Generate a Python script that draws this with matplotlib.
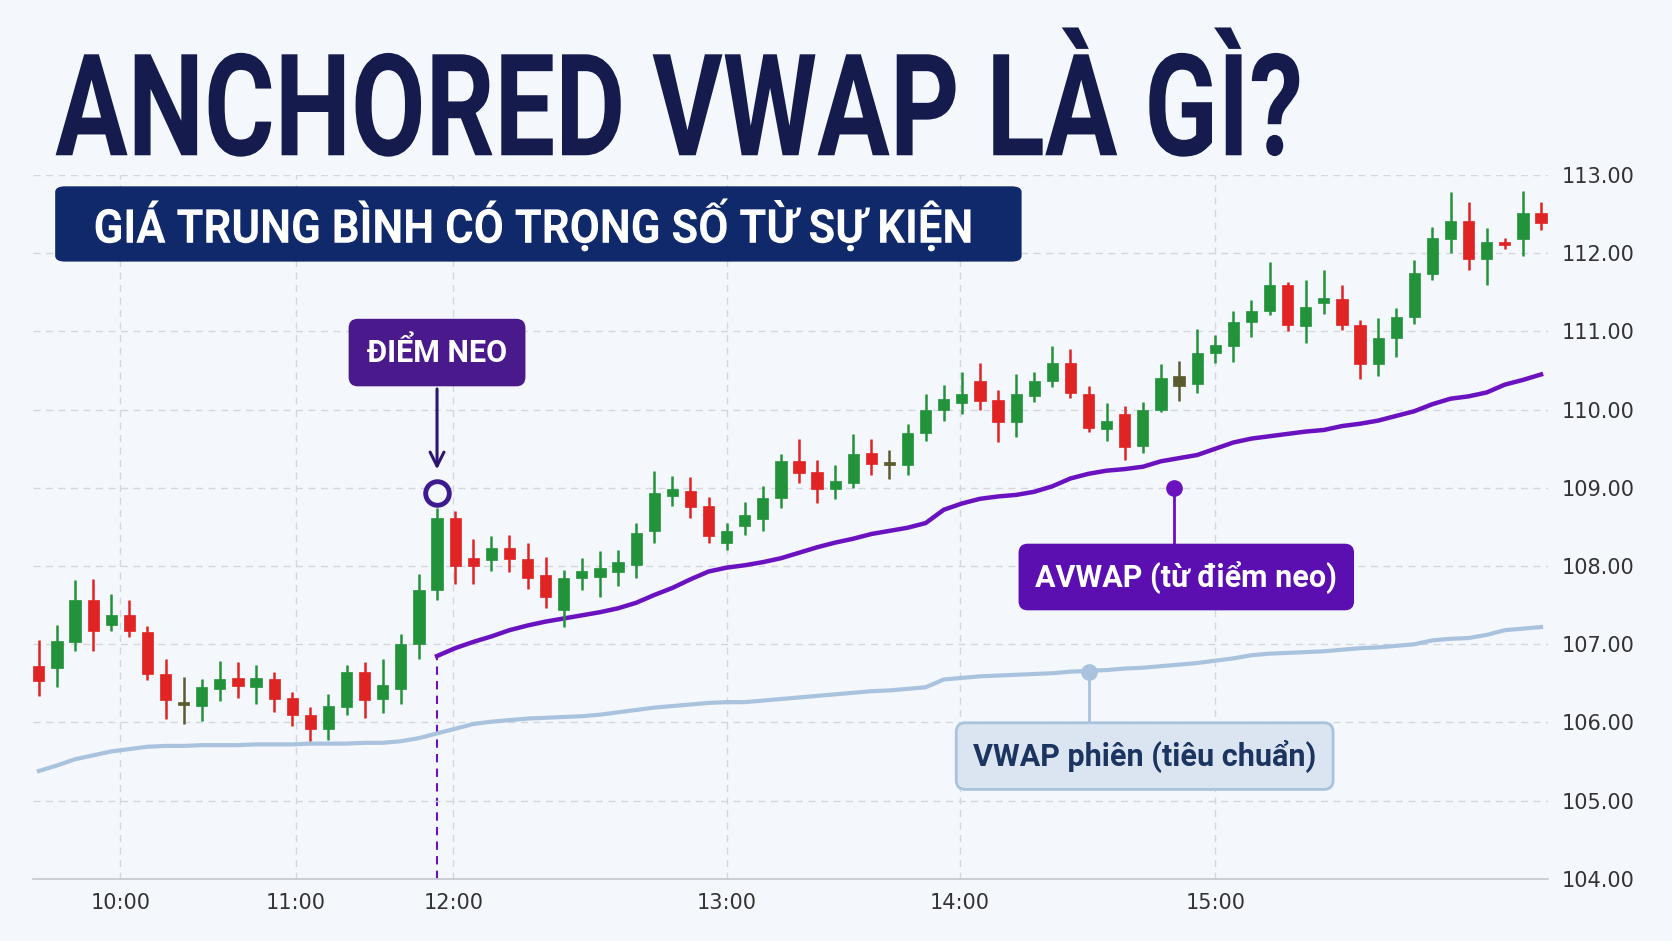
import numpy as np
import matplotlib.pyplot as plt
from matplotlib.patches import Rectangle, FancyBboxPatch, PathPatch
from matplotlib.textpath import TextPath
from matplotlib.font_manager import FontProperties
from matplotlib.transforms import Affine2D

# ---------------- data ----------------
opens = [106.72, 106.70, 107.03, 107.57, 107.25, 107.37, 107.16, 106.62, 106.26, 106.21,
         106.43, 106.57, 106.46, 106.55, 106.31, 106.10, 105.92, 106.20, 106.64, 106.30,
         106.43, 107.00, 107.70, 108.61, 108.10, 108.08, 108.23, 108.09, 107.89, 107.44,
         107.85, 107.86, 107.92, 108.01, 108.45, 108.89, 108.96, 108.77, 108.30, 108.51,
         108.60, 108.87, 109.34, 109.20, 108.99, 109.06, 109.44, 109.33, 109.29, 109.70,
         109.99, 110.09, 110.36, 110.12, 109.84, 110.18, 110.36, 110.60, 110.20, 109.75,
         109.95, 109.54, 109.99, 110.30, 110.33, 110.72, 110.82, 111.12, 111.26, 111.59,
         111.07, 111.37, 111.41, 111.08, 110.59, 110.91, 111.19, 111.74, 112.18, 112.41,
         111.93, 112.15, 112.18, 112.52]
closes = [106.53, 107.04, 107.57, 107.17, 107.37, 107.17, 106.62, 106.29, 106.22, 106.46,
          106.56, 106.47, 106.57, 106.30, 106.10, 105.92, 106.21, 106.64, 106.29, 106.48,
          107.00, 107.69, 108.61, 108.00, 108.00, 108.23, 108.09, 107.85, 107.61, 107.85,
          107.94, 107.97, 108.05, 108.42, 108.94, 108.99, 108.76, 108.38, 108.45, 108.65,
          108.87, 109.34, 109.19, 108.99, 109.09, 109.43, 109.30, 109.29, 109.70, 110.00,
          110.14, 110.20, 110.11, 109.84, 110.20, 110.36, 110.60, 110.21, 109.77, 109.85,
          109.52, 110.00, 110.41, 110.43, 110.73, 110.83, 111.12, 111.26, 111.60, 111.08,
          111.31, 111.43, 111.08, 110.59, 110.91, 111.19, 111.75, 112.20, 112.41, 111.93,
          112.14, 112.10, 112.52, 112.39]
highs = [107.05, 107.25, 107.82, 107.84, 107.64, 107.57, 107.23, 106.81, 106.58, 106.55,
         106.78, 106.77, 106.73, 106.65, 106.39, 106.20, 106.37, 106.73, 106.77, 106.81,
         107.13, 107.90, 108.74, 108.70, 108.34, 108.39, 108.40, 108.29, 108.12, 107.95,
         108.10, 108.19, 108.20, 108.55, 109.21, 109.15, 109.14, 108.88, 108.55, 108.82,
         109.03, 109.43, 109.63, 109.35, 109.29, 109.69, 109.63, 109.48, 109.82, 110.20,
         110.32, 110.48, 110.60, 110.25, 110.46, 110.48, 110.81, 110.77, 110.30, 110.09,
         110.05, 110.10, 110.58, 110.62, 111.03, 110.96, 111.26, 111.40, 111.89, 111.63,
         111.66, 111.78, 111.59, 111.15, 111.17, 111.30, 111.91, 112.34, 112.78, 112.66,
         112.32, 112.20, 112.80, 112.65]
lows = [106.34, 106.46, 106.91, 106.92, 107.17, 107.09, 106.54, 106.04, 105.98, 106.02,
        106.27, 106.31, 106.24, 106.14, 105.95, 105.76, 105.77, 106.09, 106.06, 106.12,
        106.23, 106.81, 107.56, 107.77, 107.77, 107.94, 107.93, 107.71, 107.46, 107.22,
        107.70, 107.60, 107.75, 107.85, 108.29, 108.77, 108.61, 108.29, 108.20, 108.40,
        108.45, 108.74, 109.06, 108.81, 108.86, 109.00, 109.16, 109.11, 109.16, 109.60,
        109.85, 109.95, 109.99, 109.58, 109.65, 110.10, 110.29, 110.15, 109.72, 109.60,
        109.35, 109.45, 109.97, 110.11, 110.21, 110.60, 110.61, 110.93, 111.21, 111.01,
        110.85, 111.22, 111.02, 110.39, 110.43, 110.67, 111.09, 111.66, 112.00, 111.78,
        111.60, 112.05, 111.97, 112.30]
doji_idx = [8, 47, 63]

vwap_session = [105.38, 105.45, 105.53, 105.58, 105.63, 105.66, 105.69, 105.70, 105.70, 105.71,
                105.71, 105.71, 105.72, 105.72, 105.72, 105.73, 105.73, 105.73, 105.74, 105.74,
                105.76, 105.80, 105.86, 105.92, 105.98, 106.01, 106.03, 106.05, 106.06, 106.07,
                106.08, 106.10, 106.13, 106.16, 106.19, 106.21, 106.23, 106.25, 106.26, 106.26,
                106.28, 106.30, 106.32, 106.34, 106.36, 106.38, 106.40, 106.41, 106.43, 106.45,
                106.55, 106.57, 106.59, 106.60, 106.61, 106.62, 106.63, 106.65, 106.66, 106.67,
                106.69, 106.70, 106.72, 106.74, 106.76, 106.79, 106.82, 106.86, 106.88, 106.89,
                106.90, 106.91, 106.93, 106.95, 106.96, 106.98, 107.00, 107.05, 107.07, 107.08,
                107.12, 107.18, 107.20, 107.22]

anchor = 22
avwap = [106.85, 106.95, 107.03, 107.10, 107.18, 107.24, 107.29, 107.33, 107.37, 107.41,
         107.46, 107.53, 107.63, 107.72, 107.83, 107.93, 107.98, 108.01, 108.05, 108.10,
         108.17, 108.24, 108.30, 108.35, 108.41, 108.45, 108.49, 108.55, 108.72, 108.80,
         108.86, 108.89, 108.91, 108.95, 109.02, 109.12, 109.18, 109.22, 109.24, 109.27,
         109.34, 109.38, 109.42, 109.50, 109.58, 109.63, 109.66, 109.69, 109.72, 109.74,
         109.79, 109.82, 109.86, 109.92, 109.98, 110.07, 110.14, 110.17, 110.22, 110.32,
         110.38, 110.45]

time_labels = ["10:00", "11:00", "12:00", "13:00", "14:00", "15:00"]
time_pos = [4.5, 14.2, 22.9, 38.0, 50.9, 65.0]
price_ticks = [104, 105, 106, 107, 108, 109, 110, 111, 112, 113]

# ---------------- style ----------------
BG = "#f4f7fb"
GREEN = "#22933a"
RED = "#e02424"
DOJI = "#5a5a30"
PURPLE = "#6a11c0"
NAVY = "#151b4d"
LIGHTBLUE = "#a9c3de"
FONT = "Roboto"

plt.rcParams['font.family'] = ['DejaVu Sans']

W, H = 1672, 941
fig = plt.figure(figsize=(W / 100, H / 100), dpi=100, facecolor=BG)
ax = fig.add_axes([0.02, 0.066, 0.906, 0.748], facecolor=BG)


def squeezed_text(s, x_frac, y_frac, size_px, sx, color, zorder=6):
    # text drawn as a path, narrowed horizontally by sx
    path = TextPath((0, 0), s, size=size_px, prop=FontProperties(family=FONT, weight="bold"))
    tr = Affine2D().scale(sx / W, 1 / H).translate(x_frac, y_frac) + fig.transFigure
    fig.add_artist(PathPatch(path, transform=tr, fc=color, ec="none", zorder=zorder))


n = len(opens)
x = np.arange(n)

for i in range(n):
    o, c, h, l = opens[i], closes[i], highs[i], lows[i]
    col = DOJI if i in doji_idx else (GREEN if c >= o else RED)
    ax.plot([i, i], [l, h], color=col, lw=1.8, zorder=3, solid_capstyle="butt")
    lo, hi = min(o, c), max(o, c)
    ax.add_patch(Rectangle((i - 0.31, lo), 0.62, max(hi - lo, 0.04),
                           facecolor=col, edgecolor=col, lw=0.5, zorder=4))

ax.plot(x, vwap_session, color=LIGHTBLUE, lw=3, zorder=2)
ax.plot(x[anchor:], avwap, color=PURPLE, lw=3.2, zorder=2)

# anchor marker
ax.plot([anchor, anchor], [104, avwap[0]], color=PURPLE, lw=1.5, ls=(0, (4, 3)), zorder=1)
ax.plot(anchor, 108.94, "o", ms=17, mfc=BG, mec="#3d1a8f", mew=3.5, zorder=6)
ax.annotate("", xy=(anchor, 109.2), xytext=(anchor, 110.3),
            arrowprops=dict(arrowstyle="->", color="#2e1670", lw=2.2,
                            mutation_scale=25), zorder=6)
lbl = dict(ha="center", va="center", fontsize=22, fontweight="bold", family=FONT, zorder=7)
ax.text(anchor, 110.73, "ĐIỂM NEO", color="white",
        bbox=dict(boxstyle="round,pad=0.6,rounding_size=0.3", fc="#4a1a8c", ec="none"), **lbl)

# AVWAP label
ax.plot([62.7, 62.7], [109.0, 108.2], color=PURPLE, lw=2, zorder=5)
ax.plot(62.7, 109.0, "o", ms=11, color=PURPLE, zorder=6)
ax.text(63.4, 107.86, "AVWAP (từ điểm neo)", color="white",
        bbox=dict(boxstyle="round,pad=0.55,rounding_size=0.3", fc="#5b0fb0", ec="none"), **lbl)

# VWAP label
ax.plot([58, 58], [106.65, 105.95], color=LIGHTBLUE, lw=2, zorder=5)
ax.plot(58, 106.65, "o", ms=11, color=LIGHTBLUE, zorder=6)
ax.text(61.1, 105.57, "VWAP phiên (tiêu chuẩn)", color="#1b3460",
        bbox=dict(boxstyle="round,pad=0.55,rounding_size=0.3", fc="#dbe5f1",
                  ec=LIGHTBLUE, lw=2), **lbl)

ax.set_xlim(-0.3, 83.4)
ax.set_ylim(104, 113)
ax.set_yticks(price_ticks)
ax.set_yticklabels([f"{p:.2f}" for p in price_ticks])
ax.set_xticks(time_pos)
ax.set_xticklabels(time_labels)
ax.yaxis.tick_right()
ax.tick_params(axis="both", length=0, labelsize=15, colors="#333333", pad=10)
ax.grid(True, color="#d3d8df", ls=(0, (5, 4)), lw=1)
for s in ["top", "left", "right"]:
    ax.spines[s].set_visible(False)
ax.spines["bottom"].set_color("#c4c8ce")
ax.spines["bottom"].set_linewidth(1.2)

# titles
squeezed_text("ANCHORED VWAP LÀ GÌ?", 0.033, 0.835, 142, 0.76, NAVY)
fig.patches.append(FancyBboxPatch((0.033, 0.722), 0.578, 0.080, transform=fig.transFigure,
                                  boxstyle="round,pad=0,rounding_size=0.006",
                                  fc="#10296b", ec="none", zorder=5))
squeezed_text("GIÁ TRUNG BÌNH CÓ TRỌNG SỐ TỪ SỰ KIỆN", 0.056, 0.742, 47, 0.93, "white")

fig.savefig("out.png", dpi=100, facecolor=BG)
